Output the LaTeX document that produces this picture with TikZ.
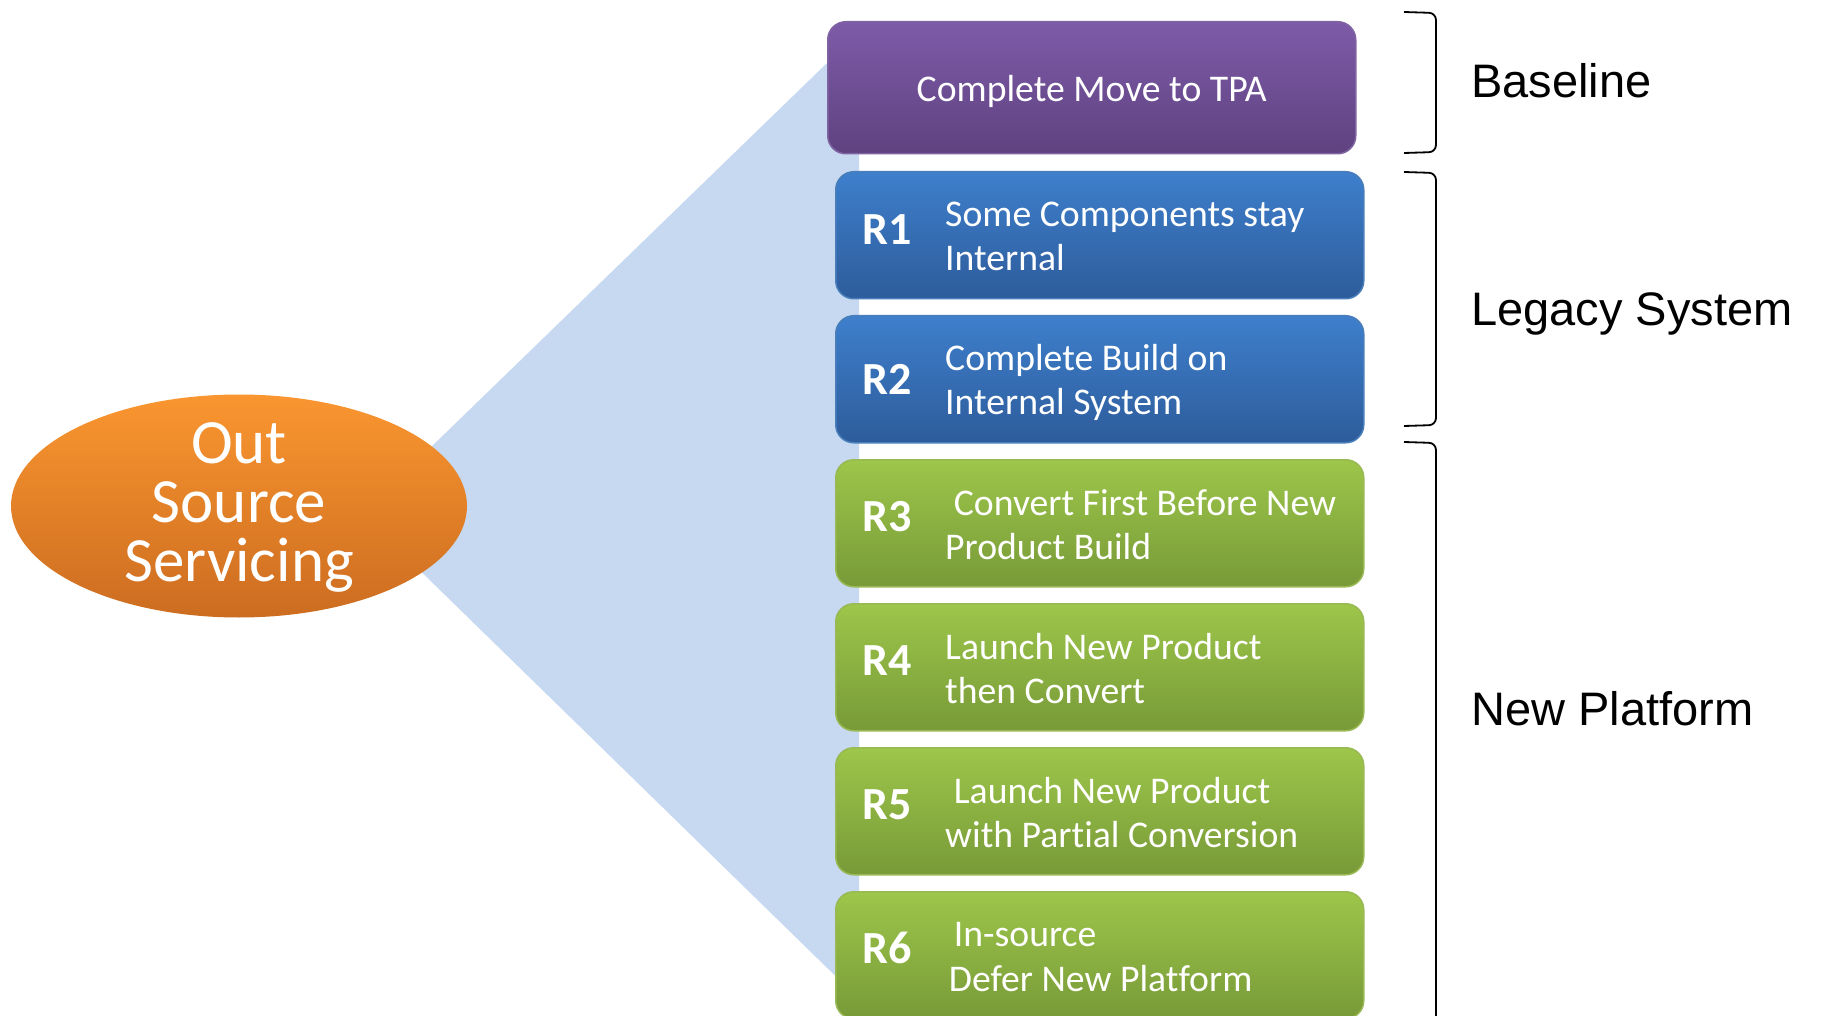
\documentclass[tikz,border=0pt]{standalone}
\usepackage{fontspec}
\setmainfont{Carlito}[Ligatures={NoCommon}]
\newfontfamily\labelfont{Liberation Sans}
\usetikzlibrary{shapes.geometric}

\definecolor{wedgeblue}{HTML}{C6D9F1}
\definecolor{purpleTop}{HTML}{7E5BA8}
\definecolor{purpleBot}{HTML}{5F4280}
\definecolor{purpleEdge}{HTML}{8064A2}
\definecolor{blueTop}{HTML}{3E7FCC}
\definecolor{blueBot}{HTML}{2D5C9B}
\definecolor{blueEdge}{HTML}{4A7EBB}
\definecolor{greenTop}{HTML}{9DC64A}
\definecolor{greenBot}{HTML}{789A38}
\definecolor{greenEdge}{HTML}{98B954}
\definecolor{orangeTop}{HTML}{FA9630}
\definecolor{orangeBot}{HTML}{CC6C20}

\tikzset{
  card/.style={rectangle, rounded corners=18pt, minimum width=528pt,
    minimum height=127pt, inner sep=0pt, line width=1.5pt, anchor=north west},
  purplecard/.style={card, minimum height=132pt, top color=purpleTop,
    bottom color=purpleBot, draw=purpleEdge},
  bluecard/.style={card, top color=blueTop, bottom color=blueBot, draw=blueEdge},
  greencard/.style={card, top color=greenTop, bottom color=greenBot, draw=greenEdge},
  tag/.style={text=white, font=\fontsize{46}{55}\selectfont\bfseries, inner sep=0pt},
  cardtext/.style={text=white, font=\fontsize{37.7}{44.5}\selectfont, align=left,
    anchor=west, inner sep=0pt},
  bracket/.style={line width=1.8pt, rounded corners=7pt},
  grouplabel/.style={font=\labelfont\fontsize{47}{56}\selectfont, anchor=west,
    inner sep=0pt},
  hub/.style={ellipse, minimum width=456pt, minimum height=223pt, inner sep=0pt,
    top color=orangeTop, bottom color=orangeBot},
  hubtext/.style={text=white, font=\fontsize{63}{59}\selectfont, align=center,
    inner sep=0pt},
}

\begin{document}
\begin{tikzpicture}[x=1pt, y=-1pt]
\useasboundingbox (0,0) rectangle (1821,1016);

% light blue wedge fanning out from the hub to the column of options
\coordinate (wedge-apex) at (362,514);
\coordinate (wedge-top) at (859,32);
\coordinate (wedge-bottom) at (859,999);
\fill[wedgeblue] (wedge-apex) -- (wedge-top) -- (wedge-bottom) -- cycle;

% hub
\node[hub] (hub) at (239,506) {};
\node[hubtext] (hub-text) at ([yshift=-1pt]hub.center) {Out\\Source\\Servicing};

% baseline option
\node[purplecard] (base) at (827,21) {};
\node[cardtext, anchor=center] (base-text) at ([yshift=-3.5pt]base.center) {Complete Move to TPA};

% numbered options
\node[bluecard]  (r1) at (835,171) {};
\node[bluecard]  (r2) at (835,315) {};
\node[greencard] (r3) at (835,459) {};
\node[greencard] (r4) at (835,603) {};
\node[greencard] (r5) at (835,747) {};
\node[greencard] (r6) at (835,891) {};

\foreach \i/\up in {1/6,2/0,3/7,4/7,5/7,6/7}{
  \node[tag] (r\i-tag) at ([xshift=52pt, yshift=\up pt]r\i.west) {R\i};
}

\node[cardtext] (r1-text) at ([xshift=110pt, yshift=-1pt]r1.west) {Some Components stay\\Internal};
\node[cardtext] (r2-text) at ([xshift=110pt, yshift=-3pt]r2.west) {Complete Build on\\Internal System};
\node[cardtext] (r3-text) at ([xshift=110pt, yshift=-1.5pt]r3.west) {\hspace*{0.23em}Convert First Before New\\Product Build};
\node[cardtext] (r4-text) at ([xshift=110pt, yshift=-1.5pt]r4.west) {Launch New Product\\then Convert};
\node[cardtext] (r5-text) at ([xshift=110pt, yshift=-1.5pt]r5.west) {\hspace*{0.23em}Launch New Product\\with Partial Conversion};
\node[cardtext] (r6-text) at ([xshift=110pt, yshift=-2pt]r6.west) {\hspace*{0.23em}In-source\\\hspace*{0.1em}Defer New Platform};

% group brackets
\draw[bracket] (1404,12) -- (1436,13) -- (1436,152) -- (1404,153);
\draw[bracket] (1404,172) -- (1436,173) -- (1436,425) -- (1404,426);
\draw[bracket] (1404,442) -- (1436,443) -- (1436,1040);

% group labels
\node[grouplabel] (lbl-base) at (1471,81) {Baseline};
\node[grouplabel] (lbl-legacy) at (1471,314) {Legacy System};
\node[grouplabel] (lbl-new) at (1471,709) {New Platform};
\end{tikzpicture}
\end{document}
